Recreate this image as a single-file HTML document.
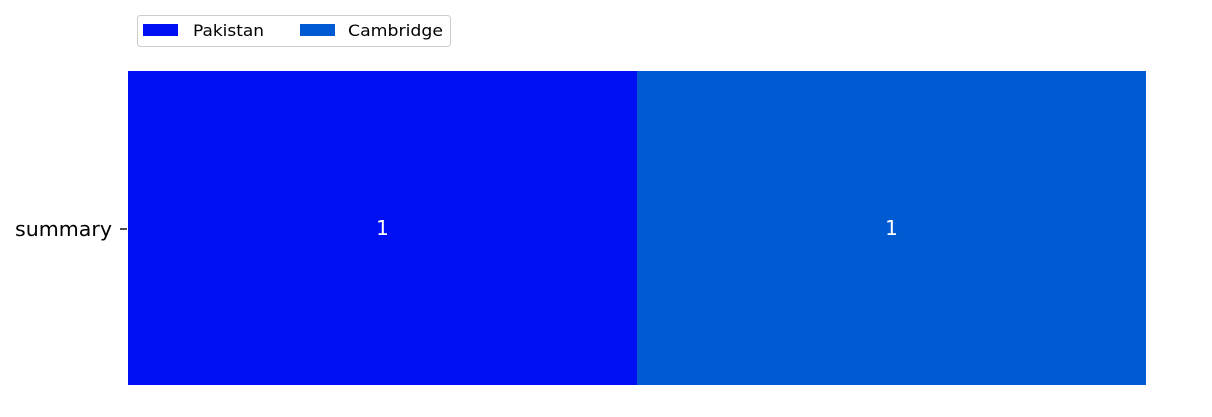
<!DOCTYPE html>
<html><head><meta charset="utf-8"><style>
html,body{margin:0;padding:0;background:#fff;width:1212px;height:417px;overflow:hidden}
svg{display:block;font-family:"DejaVu Sans","Liberation Sans",sans-serif}
</style></head><body>
<svg id="chart" width="1212" height="417">
<g id="bars"></g>
<g id="labels"></g>
<line x1="120" y1="229" x2="127" y2="229" stroke="#000" stroke-width="1.4"/>
<text x="112" y="236" font-size="20" text-anchor="end" textLength="97" lengthAdjust="spacingAndGlyphs" fill="#000">summary</text>
<g>
<rect x="137.5" y="15.5" width="313" height="31" rx="3" fill="#fff" stroke="#ccc" stroke-width="1"/>
<rect x="143" y="24" width="35" height="12" fill="#0010f5"/>
<text x="193" y="36" font-size="16" textLength="71" lengthAdjust="spacingAndGlyphs" fill="#000">Pakistan</text>
<rect x="300" y="24" width="35" height="12" fill="#005ad2"/>
<text x="348" y="36" font-size="16" textLength="95" lengthAdjust="spacingAndGlyphs" fill="#000">Cambridge</text>
</g>
</svg>
<script>
const categories = ["summary"];
const seriesNames = ["Pakistan", "Cambridge"];
const seriesValues = [[1], [1]];
const colors = ["#0010f5", "#005ad2"];
const x0 = 128, x1 = 1146, y0 = 71, y1 = 385;
const total = seriesValues.reduce((s, v) => s + v[0], 0);
const xScale = v => x0 + (x1 - x0) * v / total;
const ns = "http://www.w3.org/2000/svg";
const bars = document.getElementById("bars"), labels = document.getElementById("labels");
let acc = 0;
seriesValues.forEach((vals, i) => {
  const v = vals[0];
  const r = document.createElementNS(ns, "rect");
  r.setAttribute("x", xScale(acc)); r.setAttribute("y", y0);
  r.setAttribute("width", xScale(acc + v) - xScale(acc)); r.setAttribute("height", y1 - y0);
  r.setAttribute("fill", colors[i]);
  
  
  bars.appendChild(r);
  const t = document.createElementNS(ns, "text");
  t.setAttribute("x", (xScale(acc) + xScale(acc + v)) / 2); t.setAttribute("y", 235);
  t.setAttribute("text-anchor", "middle"); t.setAttribute("font-size", "20"); t.setAttribute("fill", "#fff");
  t.textContent = v;
  
  
  labels.appendChild(t);
  acc += v;
});
</script>
</body></html>
